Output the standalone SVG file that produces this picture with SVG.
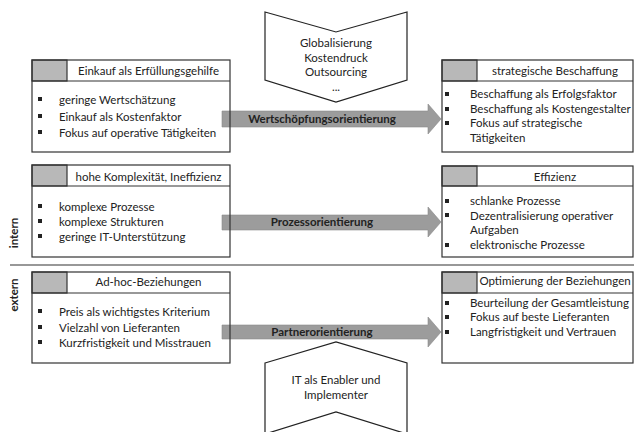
<svg xmlns="http://www.w3.org/2000/svg" width="634" height="432" viewBox="0 0 634 432">
  <style>
    text { font-family: Lato, "Liberation Sans", sans-serif; font-size: 11.5px; fill: #222; }
    .c { text-anchor: middle; }
    .b { font-weight: bold; }
    .frame { fill: none; stroke: #333; stroke-width: 1.2; }
    .cell { fill: #b8b8b8; stroke: #333; stroke-width: 1.2; }
    .bul { fill: #222; }
    .arrow { fill: #9c9c9c; stroke: #8a8a8a; stroke-width: 0.6; }
    .chev { fill: #fff; stroke: #222; stroke-width: 1.2; }
    .sep { stroke: #333; stroke-width: 1.2; }
  </style>
  <defs>
    <rect id="dot" width="4" height="4" class="bul"/>
  </defs>
  <rect width="634" height="432" fill="#fff"/>

  <!-- Connectors: broad orientation arrows -->
  <g id="connectors">
    <path class="arrow" d="M222,111 H428 V104 L441,119 L428,134 V127 H222 Z"/>
    <path class="arrow" d="M222,215 H428 V207 L441,222 L428,237 V230 H222 Z"/>
    <path class="arrow" d="M222,325 H428 V317 L441,332 L428,347 V339 H222 Z"/>
    <text class="c b" x="322" y="123">Wertschöpfungsorientierung</text>
    <text class="c b" x="322" y="226">Prozessorientierung</text>
    <text class="c b" x="322" y="336">Partnerorientierung</text>
  </g>

  <!-- intern / extern divider -->
  <g id="divider">
    <line class="sep" x1="10" y1="265" x2="634" y2="265"/>
    <text class="c b" transform="translate(18,233) rotate(-90)">intern</text>
    <text class="c b" transform="translate(18,295) rotate(-90)">extern</text>
  </g>

  <!-- Drivers (top chevron) -->
  <g id="drivers">
    <path class="chev" d="M265,12 L336,32 L407,12 V80 L336,102 L265,80 Z"/>
    <text class="c" x="336" y="47">Globalisierung</text>
    <text class="c" x="336" y="61.5">Kostendruck</text>
    <text class="c" x="336" y="76">Outsourcing</text>
    <text class="c" x="336" y="90.5">...</text>
  </g>

  <!-- Enabler (bottom chevron) -->
  <g id="enabler">
    <path class="chev" d="M265,363 L336,342 L407,363 V434 L336,412 L265,434 Z"/>
    <text class="c" x="336" y="384">IT als Enabler und</text>
    <text class="c" x="336" y="399">Implementer</text>
  </g>

  <!-- Left column: starting situation -->
  <g id="einkauf">
    <rect class="cell" x="32" y="60" width="35" height="21"/>
    <rect class="frame" x="32" y="60" width="198" height="92"/>
    <line class="sep" x1="32" y1="81" x2="230" y2="81"/>
    <text class="c" x="148.5" y="75">Einkauf als Erfüllungsgehilfe</text>
    <use href="#dot" x="38" y="97"/><text x="59" y="104">geringe Wertschätzung</text>
    <use href="#dot" x="38" y="114"/><text x="59" y="121">Einkauf als Kostenfaktor</text>
    <use href="#dot" x="38" y="130"/><text x="59" y="137">Fokus auf operative Tätigkeiten</text>
  </g>

  <g id="komplexitaet">
    <rect class="cell" x="32" y="165" width="35" height="21"/>
    <rect class="frame" x="32" y="165" width="198" height="92"/>
    <line class="sep" x1="32" y1="186" x2="230" y2="186"/>
    <text class="c" x="148.5" y="181">hohe Komplexität, Ineffizienz</text>
    <use href="#dot" x="38" y="204"/><text x="59" y="211">komplexe Prozesse</text>
    <use href="#dot" x="38" y="219"/><text x="59" y="226">komplexe Strukturen</text>
    <use href="#dot" x="38" y="234"/><text x="59" y="241">geringe IT-Unterstützung</text>
  </g>

  <g id="adhoc">
    <rect class="cell" x="32" y="272" width="35" height="21"/>
    <rect class="frame" x="32" y="272" width="198" height="91"/>
    <line class="sep" x1="32" y1="293" x2="230" y2="293"/>
    <text class="c" x="148.5" y="286">Ad-hoc-Beziehungen</text>
    <use href="#dot" x="38" y="309"/><text x="59" y="316">Preis als wichtigstes Kriterium</text>
    <use href="#dot" x="38" y="325"/><text x="59" y="332">Vielzahl von Lieferanten</text>
    <use href="#dot" x="38" y="340"/><text x="59" y="347">Kurzfristigkeit und Misstrauen</text>
  </g>

  <!-- Right column: target situation -->
  <g id="beschaffung">
    <rect class="cell" x="442" y="60" width="35" height="21"/>
    <rect class="frame" x="442" y="60" width="191" height="92"/>
    <line class="sep" x1="442" y1="81" x2="633" y2="81"/>
    <text class="c" x="555" y="75">strategische Beschaffung</text>
    <use href="#dot" x="445" y="92"/><text x="470" y="98">Beschaffung als Erfolgsfaktor</text>
    <use href="#dot" x="445" y="107"/><text x="470" y="113">Beschaffung als Kostengestalter</text>
    <use href="#dot" x="445" y="121"/><text x="470" y="127">Fokus auf strategische</text>
    <text x="470" y="142">Tätigkeiten</text>
  </g>

  <g id="effizienz">
    <rect class="cell" x="442" y="166" width="35" height="20"/>
    <rect class="frame" x="442" y="166" width="191" height="91"/>
    <line class="sep" x1="442" y1="186" x2="633" y2="186"/>
    <text class="c" x="555" y="181">Effizienz</text>
    <use href="#dot" x="445" y="199"/><text x="470" y="205">schlanke Prozesse</text>
    <use href="#dot" x="445" y="213"/><text x="470" y="219.5">Dezentralisierung operativer</text>
    <text x="470" y="234">Aufgaben</text>
    <use href="#dot" x="445" y="243"/><text x="470" y="249">elektronische Prozesse</text>
  </g>

  <g id="optimierung">
    <rect class="cell" x="442" y="272" width="35" height="21"/>
    <rect class="frame" x="442" y="272" width="191" height="91"/>
    <line class="sep" x1="442" y1="293" x2="633" y2="293"/>
    <text class="c" x="555" y="285">Optimierung der Beziehungen</text>
    <use href="#dot" x="445" y="301"/><text x="470" y="307">Beurteilung der Gesamtleistung</text>
    <use href="#dot" x="445" y="315"/><text x="470" y="321">Fokus auf beste Lieferanten</text>
    <use href="#dot" x="445" y="330"/><text x="470" y="336">Langfristigkeit und Vertrauen</text>
  </g>
</svg>
